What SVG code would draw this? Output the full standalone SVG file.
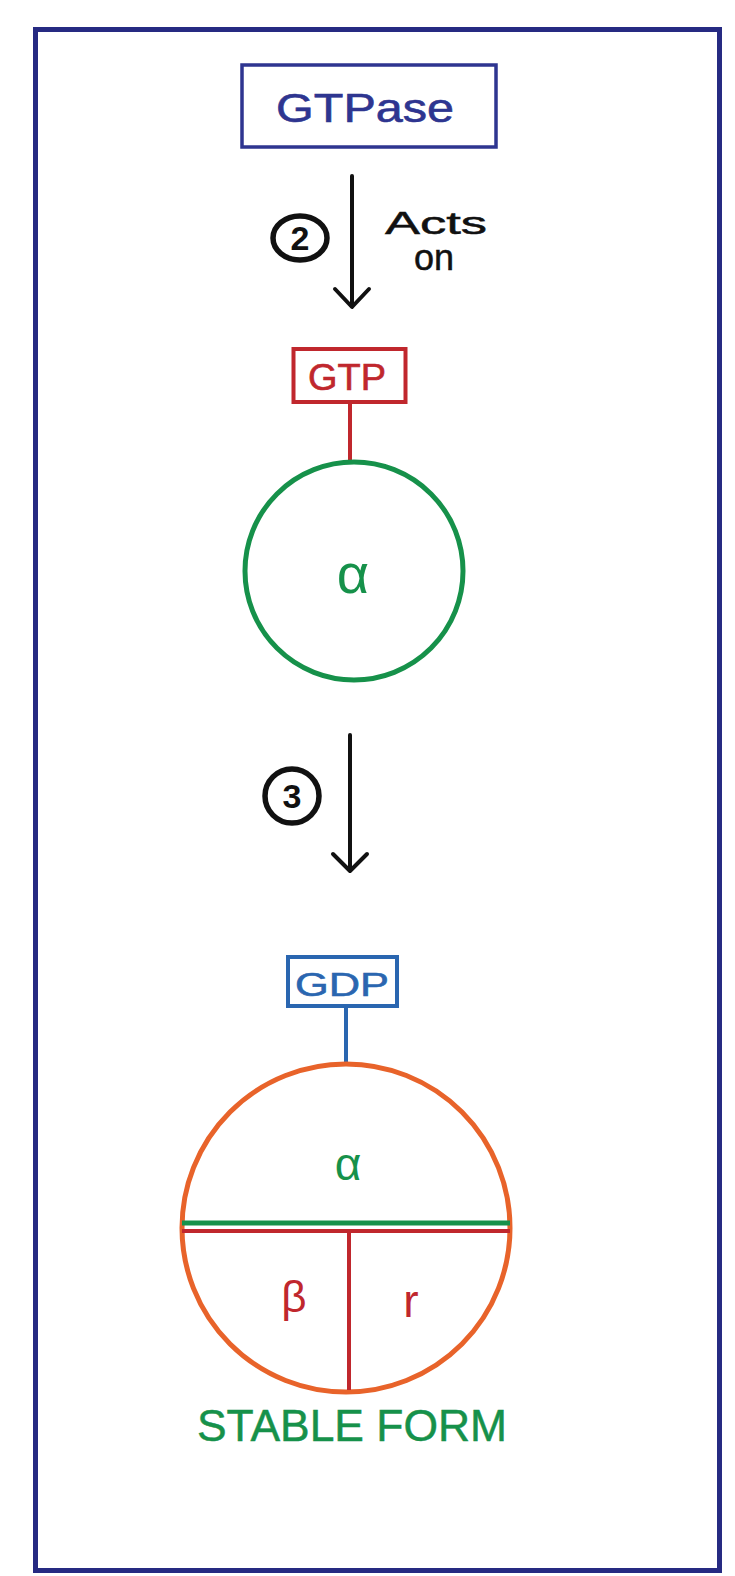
<svg xmlns="http://www.w3.org/2000/svg" width="735" height="1576" viewBox="0 0 735 1576">
<style>
text{font-family:"Liberation Sans","DejaVu Sans",sans-serif;text-anchor:middle}
.arrow{stroke:#111;stroke-width:4;fill:none;stroke-linecap:round;stroke-linejoin:round}
.num{stroke:#111;stroke-width:5.5;fill:none}
.numt{font-size:34px;font-weight:bold;fill:#111}
</style>
<rect x="0" y="0" width="735" height="1576" fill="#fff"/>
<rect id="frame" x="35.5" y="29.5" width="684" height="1541" fill="none" stroke="#262a82" stroke-width="5"/>
<g id="gtpase">
<rect x="242" y="65" width="254" height="82" fill="none" stroke="#2e3590" stroke-width="3.5"/>
<text x="365" y="122" font-size="40" fill="#2e3590" stroke="#2e3590" stroke-width="0.6" textLength="178" lengthAdjust="spacingAndGlyphs">GTPase</text>
</g>
<g id="connectors">
<g id="arrow1">
<line class="arrow" x1="352" y1="176" x2="352" y2="306"/>
<polyline class="arrow" points="335,289 352,307 369,289"/>
<ellipse class="num" cx="300" cy="238" rx="27" ry="22"/>
<text class="numt" x="300" y="250">2</text>
<text x="436" y="234" font-size="32" fill="#111" stroke="#111" stroke-width="0.5" textLength="102" lengthAdjust="spacingAndGlyphs">Acts</text>
<text x="434" y="270" font-size="36" fill="#111" stroke="#111" stroke-width="0.5">on</text>
</g>
<g id="arrow2">
<line class="arrow" x1="350" y1="735" x2="350" y2="870"/>
<polyline class="arrow" points="333,854 350,871 367,854"/>
<circle class="num" cx="292" cy="796" r="27"/>
<text class="numt" x="292" y="808">3</text>
</g>
<line id="gtp-link" x1="350" y1="403" x2="350" y2="462" stroke="#c0272d" stroke-width="4"/>
<line id="gdp-link" x1="346" y1="1007" x2="346" y2="1064" stroke="#2a66b0" stroke-width="4"/>
</g>
<g id="gtp">
<rect x="293.5" y="349" width="112" height="53" fill="none" stroke="#c0272d" stroke-width="4"/>
<text x="347" y="390" font-size="36" fill="#c0272d" stroke="#c0272d" stroke-width="0.6" textLength="78" lengthAdjust="spacingAndGlyphs">GTP</text>
</g>
<g id="alpha-gtp">
<circle cx="354" cy="571" r="109" fill="none" stroke="#16914a" stroke-width="5"/>
<text x="353" y="593" font-size="56" fill="#16914a">α</text>
</g>
<g id="gdp">
<rect x="288" y="957" width="109" height="49" fill="none" stroke="#2a66b0" stroke-width="4"/>
<text x="342" y="996" font-size="34" fill="#2a66b0" stroke="#2a66b0" stroke-width="0.6" textLength="94" lengthAdjust="spacingAndGlyphs">GDP</text>
</g>
<g id="stable">
<circle cx="346" cy="1228" r="164" fill="none" stroke="#e8632a" stroke-width="5"/>
<line x1="182" y1="1223" x2="510" y2="1223" stroke="#16914a" stroke-width="5"/>
<line x1="182" y1="1231" x2="510" y2="1231" stroke="#c0272d" stroke-width="4"/>
<line x1="349" y1="1231" x2="349" y2="1390" stroke="#c0272d" stroke-width="4"/>
<text x="348" y="1180" font-size="46" fill="#16914a">α</text>
<text x="294" y="1312" font-size="44" fill="#c0272d">β</text>
<text x="411" y="1317" font-size="46" fill="#c0272d">r</text>
<text x="352" y="1441" font-size="44" fill="#16914a" stroke="#16914a" stroke-width="0.5" textLength="310" lengthAdjust="spacingAndGlyphs">STABLE FORM</text>
</g>
</svg>
